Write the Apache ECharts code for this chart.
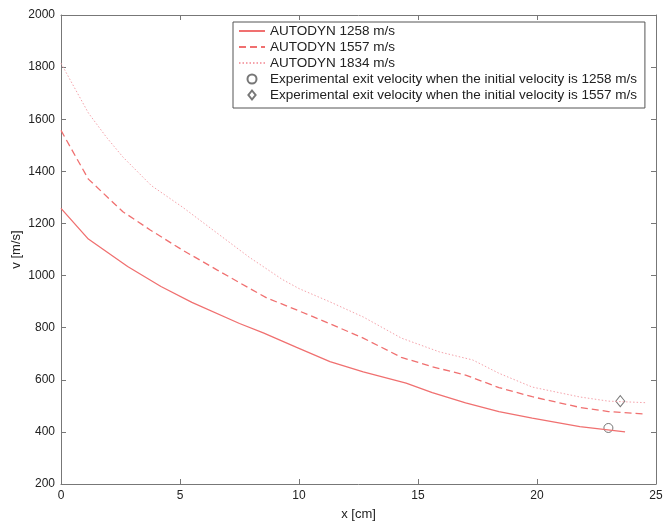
<!DOCTYPE html>
<html>
<head>
<meta charset="utf-8">
<script src="https://cdn.jsdelivr.net/npm/echarts@6/dist/echarts.min.js"></script>
<style>
  html, body { margin: 0; padding: 0; background: #fff; }
  #chart-container { width: 664px; height: 525px; }
</style>
</head>
<body>
<div id="chart-container"></div>
<script>
// AUTODYN exit velocity curves
const xSolid = [0, 1.15, 2.8, 4.2, 5.5, 7.5, 8.5, 9.9, 11.3, 12.7, 14.5, 15.6, 17.0, 18.4, 19.8, 21.8, 23.7];
const vSolid = [1258, 1140, 1035, 958, 897, 816, 780, 724, 670, 630, 587, 551, 511, 478, 453, 420, 400];

const xDashed = [0, 1.15, 2.6, 3.75, 5.1, 6.55, 7.9, 8.65, 9.9, 11.3, 12.7, 14.3, 15.6, 17.0, 18.4, 19.8, 21.8, 23.0, 24.5];
const vDashed = [1557, 1370, 1245, 1175, 1098, 1022, 952, 914, 868, 815, 760, 686, 650, 618, 570, 535, 494, 478, 469];

const xDotted = [0, 1.15, 1.9, 2.6, 3.8, 5.1, 6.5, 7.9, 9.3, 10.0, 11.3, 12.7, 14.3, 15.9, 17.3, 18.4, 19.8, 21.8, 23.0, 24.6];
const vDotted = [1815, 1624, 1532, 1455, 1345, 1263, 1167, 1071, 985, 950, 899, 841, 760, 707, 676, 625, 572, 534, 518, 512];

const expCircle = [[23.0, 415]];
const expDiamond = [[23.5, 518]];

const yTicks = [200, 400, 600, 800, 1000, 1200, 1400, 1600, 1800, 2000];

const seriesNames = [
  'AUTODYN 1258 m/s',
  'AUTODYN 1557 m/s',
  'AUTODYN 1834 m/s',
  'Experimental exit velocity when the initial velocity is 1258 m/s',
  'Experimental exit velocity when the initial velocity is 1557 m/s'
];

const zip = (xs, ys) => xs.map((x, i) => [x, ys[i]]);

const chart = echarts.init(document.getElementById('chart-container'));

const font = 'Liberation Sans, Arial, sans-serif';
const axisColor = '#777';
const lineRed = '#f07070';
const dotPink = '#f5a3ab';

const frameAxis = {
  axisLine: { show: true, onZero: false, lineStyle: { color: axisColor, width: 1 } },
  axisTick: { show: true, inside: true, length: 5, lineStyle: { color: axisColor } },
  splitLine: { show: false },
  nameMoveOverlap: false
};

const lineLegend = { itemStyle: { opacity: 0 } };

const option = {
  animation: false,
  backgroundColor: '#fff',
  grid: { left: 61, right: 8, top: 15, bottom: 41, outerBoundsMode: 'none', containLabel: false },
  legend: {
    orient: 'vertical',
    left: 233, top: 22,
    padding: [2, 8, 6, 5],
    itemGap: 2,
    itemWidth: 26, itemHeight: 9,
    backgroundColor: '#fff',
    borderColor: '#555', borderWidth: 1,
    textStyle: { fontFamily: font, fontSize: 13.5, color: '#222', lineHeight: 12 },
    data: [
      Object.assign({ name: seriesNames[0] }, lineLegend),
      Object.assign({ name: seriesNames[1] }, lineLegend),
      Object.assign({ name: seriesNames[2] }, lineLegend),
      { name: seriesNames[3], icon: 'circle' },
      { name: seriesNames[4], icon: 'path://M0,-5L4,0L0,5L-4,0Z' }
    ]
  },
  xAxis: [
    Object.assign({}, frameAxis, {
      type: 'value', min: 0, max: 25, interval: 5, position: 'bottom',
      name: 'x [cm]', nameLocation: 'middle', nameGap: 24,
      nameTextStyle: { fontFamily: font, fontSize: 13, color: '#222' },
      axisLabel: { fontFamily: font, fontSize: 12, color: '#222', margin: 6 }
    }),
    Object.assign({}, frameAxis, {
      type: 'value', min: 0, max: 25, interval: 5, position: 'top',
      axisLabel: { show: false }
    })
  ],
  yAxis: [
    Object.assign({}, frameAxis, {
      type: 'value', min: yTicks[0], max: yTicks[yTicks.length - 1], interval: 200, position: 'left',
      name: 'v [m/s]', nameLocation: 'middle', nameGap: 38,
      nameTextStyle: { fontFamily: font, fontSize: 13, color: '#222' },
      axisLabel: { fontFamily: font, fontSize: 12, color: '#222', margin: 6, formatter: v => String(v) }
    }),
    Object.assign({}, frameAxis, {
      type: 'value', min: yTicks[0], max: yTicks[yTicks.length - 1], interval: 200, position: 'right',
      axisLabel: { show: false }
    })
  ],
  series: [
    {
      name: seriesNames[0], type: 'line', data: zip(xSolid, vSolid),
      showSymbol: false, symbol: 'none',
      lineStyle: { color: lineRed, width: 1.3, type: 'solid' }, itemStyle: { color: lineRed }
    },
    {
      name: seriesNames[1], type: 'line', data: zip(xDashed, vDashed),
      showSymbol: false, symbol: 'none',
      lineStyle: { color: lineRed, width: 1.3, type: [7, 4] }, itemStyle: { color: lineRed }
    },
    {
      name: seriesNames[2], type: 'line', data: zip(xDotted, vDotted),
      showSymbol: false, symbol: 'none',
      lineStyle: { color: dotPink, width: 1, type: [1.5, 2] }, itemStyle: { color: dotPink }
    },
    {
      name: seriesNames[3], type: 'scatter', data: expCircle,
      symbol: 'circle', symbolSize: 9,
      itemStyle: { color: '#fff', borderColor: '#555', borderWidth: 1 }
    },
    {
      name: seriesNames[4], type: 'scatter', data: expDiamond,
      symbol: 'diamond', symbolSize: [9, 11],
      itemStyle: { color: '#fff', borderColor: '#555', borderWidth: 1 }
    }
  ]
};

chart.setOption(option);
</script>
</body>
</html>
